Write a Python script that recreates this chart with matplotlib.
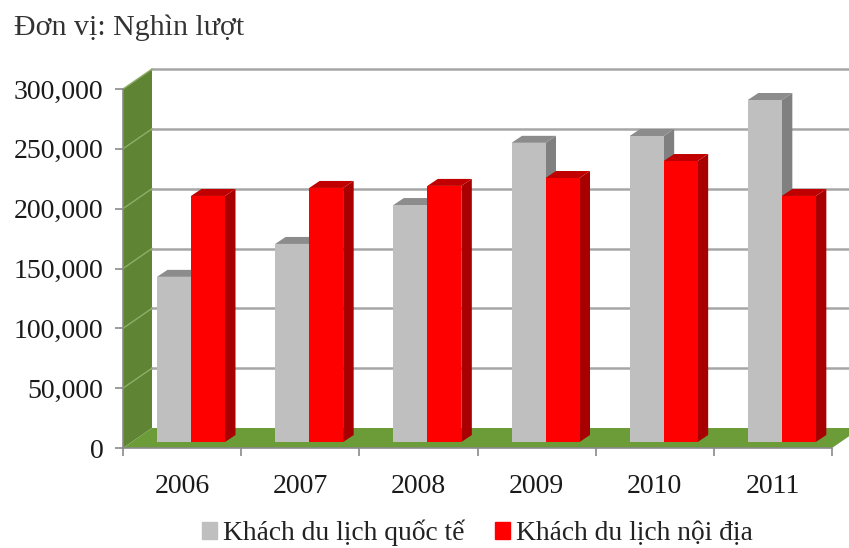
import matplotlib
matplotlib.use('Agg')
import matplotlib.pyplot as plt
from matplotlib.patches import Patch

plt.rcParams['font.family'] = ['Liberation Serif', 'DejaVu Serif']

years = ['2006', '2007', '2008', '2009', '2010', '2011']
quoc_te = [138000, 165500, 198000, 250000, 255700, 285800]
noi_dia = [205600, 212300, 214000, 220600, 234800, 205600]
y_ticks = [0, 50000, 100000, 150000, 200000, 250000, 300000]
unit_label = 'Đơn vị: Nghìn lượt'
legend_labels = ['Khách du lịch quốc tế', 'Khách du lịch nội địa']

W, H = 849, 548
fig = plt.figure(figsize=(W / 100, H / 100), dpi=100)
ax = fig.add_axes([123 / W, (H - 448) / H, 709 / W, 359 / H])
ax.set_xlim(0, 6)
ax.set_ylim(0, 300000)

# pixel sizes to data units
px_x = 6 / 709
px_y = 300000 / 359
depth_x = 29 * px_x
depth_y = 20 * px_y


def poly(xs, ys, color, z):
    ax.fill(xs, ys, color=color, lw=0, zorder=z, clip_on=False)


# side wall + floor
poly([0, depth_x, depth_x, 0], [0, depth_y, 300000 + depth_y, 300000], '#5f8433', 1)
poly([0, 6, 6 + depth_x, depth_x], [0, 0, depth_y, depth_y], '#6c9c38', 1)

for v in y_ticks[1:]:
    ax.plot([depth_x, 6 + depth_x], [v + depth_y, v + depth_y], color='#a6a6a6', lw=1.8, zorder=2, clip_on=False)
    ax.plot([0, depth_x], [v, v + depth_y], color='#8fae6c', lw=1.0, zorder=2, clip_on=False)

# bars
bar_w = 34 * px_x
bar_dx = 10.5 * px_x
bar_dy = 7 * px_y
base_x = 9 * px_x
base_y = 6 * px_y
gap = 25 * px_x


def bar3d(x0, value, front, side, top, z):
    x1 = x0 + bar_w
    y0 = base_y
    y1 = base_y + value
    poly([x1, x1 + bar_dx, x1 + bar_dx, x1], [y0, y0 + bar_dy, y1 + bar_dy, y1], side, z)
    poly([x0, x1, x1 + bar_dx, x0 + bar_dx], [y1, y1, y1 + bar_dy, y1 + bar_dy], top, z)
    poly([x0, x1, x1, x0], [y0, y0, y1, y1], front, z)


for i in range(len(years)):
    x0 = i + base_x + gap
    bar3d(x0, quoc_te[i], '#bfbfbf', '#808080', '#8c8c8c', 3 + i * 2)
    bar3d(x0 + bar_w, noi_dia[i], '#ff0000', '#a80000', '#c00000', 4 + i * 2)

# axes
for s in ['top', 'right']:
    ax.spines[s].set_visible(False)
for s in ['left', 'bottom']:
    ax.spines[s].set_color('#8a8a8a')
    ax.spines[s].set_linewidth(1.2)
    ax.spines[s].set_zorder(2.5)
ax.patch.set_visible(False)

ax.set_xticks(range(7))
ax.set_xticklabels([])
ax.set_xticks([i + 0.5 for i in range(6)], labels=years, minor=True)
ax.tick_params(axis='x', which='major', length=6, color='#8a8a8a', width=1.2)
ax.tick_params(axis='x', which='minor', length=0, pad=19, labelsize=20, labelcolor='#1a1a1a')
ax.set_yticks(y_ticks)
ax.set_yticklabels(['{:,}'.format(v) for v in y_ticks], fontsize=20, color='#1a1a1a')
ax.tick_params(axis='y', length=6, color='#8a8a8a', width=1.2, pad=8)

fig.text(14 / W, 1 - 28 / H, unit_label, fontsize=21.5, color='#333333', va='center', ha='left')

handles = [Patch(color='#bfbfbf'), Patch(color='#ff0000')]
fig.legend(handles, legend_labels, loc='center left', bbox_to_anchor=(202 / W, 1 - 533 / H), ncol=2, frameon=False,
           fontsize=19.8, handlelength=0.55, handleheight=0.55, handletextpad=0.22, columnspacing=1.1,
           labelcolor='#222222', borderpad=0, borderaxespad=0)

fig.savefig('out.png', dpi=100)
